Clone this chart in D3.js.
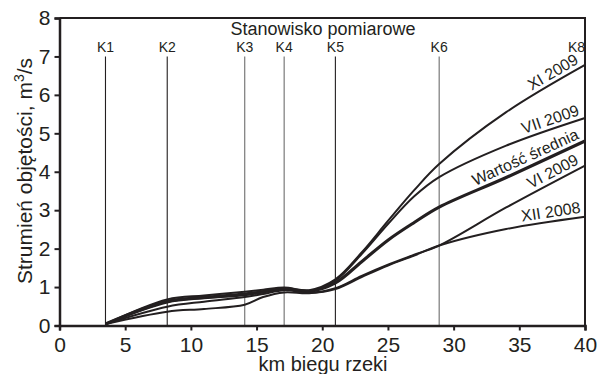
<!DOCTYPE html>
<html>
<head>
<meta charset="utf-8">
<script src="https://cdn.jsdelivr.net/npm/d3@7"></script>
<style>
  body { margin: 0; background: #fff; }
  svg { display: block; font-family: "Liberation Sans", Arial, sans-serif; }
</style>
</head>
<body>
<svg id="chart" width="600" height="374"></svg>
<script>
// km along the river where values were read
const km = [3.5, 8.2, 11, 14.1, 15.5, 17.1, 19, 21, 23, 25, 27, 28.9, 34, 40];

// volume flow, m3/s
const xi2009  = [0.04, 0.68, 0.78, 0.88, 0.93, 0.99, 0.92, 1.20, 1.90, 2.72, 3.52, 4.20, 5.55, 6.78];
const vii2009 = [0.04, 0.60, 0.71, 0.79, 0.86, 0.95, 0.89, 1.17, 1.86, 2.64, 3.36, 3.86, 4.68, 5.40];
const mean    = [0.04, 0.63, 0.73, 0.82, 0.88, 0.96, 0.89, 1.11, 1.66, 2.22, 2.68, 3.08, 3.85, 4.80];
const vi2009  = [0.04, 0.49, 0.62, 0.74, 0.82, 0.92, 0.85, 0.97, 1.29, 1.58, 1.84, 2.08, 3.07, 4.16];
const xii2008 = [0.04, 0.36, 0.43, 0.54, 0.74, 0.86, 0.84, 0.95, 1.26, 1.56, 1.82, 2.08, 2.51, 2.83];

const seriesNames = ["XI 2009", "VII 2009", "Wartość średnia", "VI 2009", "XII 2008"];
const seriesValues = [xi2009, vii2009, mean, vi2009, xii2008];

// measuring stations
const stationNames = ["K1", "K2", "K3", "K4", "K5", "K6", "K8"];
const stationKm = [3.5, 8.2, 14.1, 17.1, 21, 28.9, 40];

const xTicks = [0, 5, 10, 15, 20, 25, 30, 35, 40];
const yTicks = [0, 1, 2, 3, 4, 5, 6, 7, 8];

const ink = "#231f20";
const svg = d3.select("#chart");
const mLeft = 59.5, mRight = 585, mTop = 18, mBottom = 325.5;

const x = d3.scaleLinear().domain([0, 40]).range([mLeft, mRight]);
const y = d3.scaleLinear().domain([0, 8]).range([mBottom, mTop]);

// station lines
const stLines = svg.append("g");
stationNames.forEach((name, i) => {
  const sx = x(stationKm[i]);
  if (name !== "K8") {
    stLines.append("line")
      .attr("x1", sx).attr("x2", sx)
      .attr("y1", y(7)).attr("y2", mBottom)
      .attr("stroke", ["K3", "K4", "K6"].includes(name) ? "#6d6d6d" : ink)
      .attr("stroke-width", 1.1);
  }
  stLines.append("text")
    .attr("x", name === "K8" ? mRight : sx)
    .attr("y", 52)
    .attr("text-anchor", name === "K8" ? "end" : "middle")
    .attr("font-size", 14)
    .attr("fill", ink)
    .text(name);
});

svg.append("text")
  .attr("x", 323).attr("y", 35)
  .attr("text-anchor", "middle")
  .attr("font-size", 18)
  .attr("fill", ink)
  .text("Stanowisko pomiarowe");

// curves
const line = d3.line()
  .x((d, i) => x(km[i]))
  .y(d => y(d))
  .curve(d3.curveCatmullRom.alpha(0.5));

const paths = seriesValues.map((vals, s) =>
  svg.append("path")
    .attr("d", line(vals))
    .attr("fill", "none")
    .attr("stroke", ink)
    .attr("stroke-width", s === 2 ? 3.2 : 2)
    .node()
);

// find point on a path at given pixel x
function pointAtX(node, px) {
  let lo = 0, hi = node.getTotalLength();
  for (let k = 0; k < 40; k++) {
    const mid = (lo + hi) / 2;
    if (node.getPointAtLength(mid).x < px) lo = mid; else hi = mid;
  }
  return node.getPointAtLength(lo);
}

// curve labels, ending near the right border
seriesNames.forEach((name, s) => {
  const t = svg.append("text")
    .attr("font-size", 16)
    .attr("fill", ink)
    .attr("text-anchor", "end")
    .text(name);
  const w = t.node().getComputedTextLength();
  const endX = x(39.75);
  const p1 = pointAtX(paths[s], endX);
  let p0 = pointAtX(paths[s], endX - w * 0.9);
  let a = Math.atan2(p1.y - p0.y, p1.x - p0.x);
  p0 = pointAtX(paths[s], endX - w * Math.cos(a));
  a = Math.atan2(p1.y - p0.y, p1.x - p0.x);
  const deg = a * 180 / Math.PI;
  t.attr("transform", `translate(${p1.x},${p1.y}) rotate(${deg})`)
    .attr("dy", -4.5);
});

// axes
const xAxis = svg.append("g")
  .attr("transform", `translate(0,${mBottom})`)
  .call(d3.axisBottom(x).tickValues(xTicks).tickSize(5).tickPadding(7));
const yAxis = svg.append("g")
  .attr("transform", `translate(${mLeft},0)`)
  .call(d3.axisLeft(y).tickValues(yTicks).tickSize(5).tickPadding(4));

[xAxis, yAxis].forEach(g => {
  g.select(".domain").attr("stroke", ink).attr("stroke-width", 2.5);
  g.selectAll(".tick line").attr("stroke", ink).attr("stroke-width", 2);
  g.selectAll(".tick text")
    .attr("fill", ink)
    .attr("font-size", 21)
    .attr("font-family", "Liberation Sans, Arial, sans-serif");
});

// top and right frame
svg.append("path")
  .attr("d", `M${mLeft},${mTop}H${mRight}V${mBottom}`)
  .attr("fill", "none")
  .attr("stroke", ink)
  .attr("stroke-width", 2);

// axis titles
svg.append("text")
  .attr("x", 323).attr("y", 371)
  .attr("text-anchor", "middle")
  .attr("font-size", 20)
  .attr("fill", ink)
  .text("km biegu rzeki");

const yt = svg.append("text")
  .attr("transform", "translate(32,171) rotate(-90)")
  .attr("text-anchor", "middle")
  .attr("font-size", 21)
  .attr("fill", ink);
yt.append("tspan").text("Strumień objętości, m");
yt.append("tspan").attr("font-size", 14).attr("dy", -8).text("3");
yt.append("tspan").attr("dy", 8).text("/s");
</script>
</body>
</html>
